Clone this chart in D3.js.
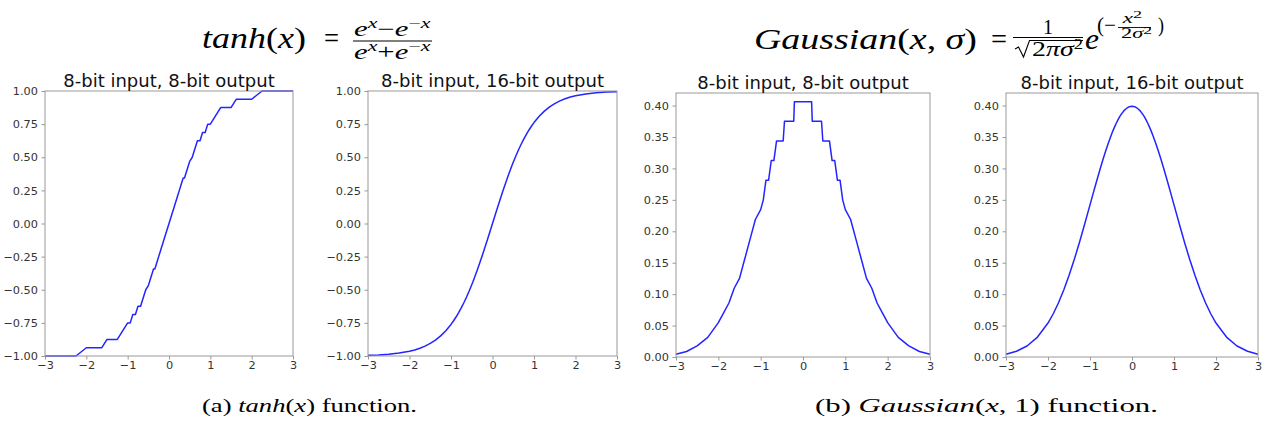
<!DOCTYPE html>
<html>
<head>
<meta charset="utf-8">
<script src="https://cdn.jsdelivr.net/npm/d3@7"></script>
<style>
  html, body { margin: 0; padding: 0; background: #fff; }
  svg { display: block; }
</style>
</head>
<body>
<svg id="fig" width="1266" height="425"></svg>
<script>
// Input samples: the 8-bit representable inputs between -3 and 3
const xValues = [-3, -2.75, -2.5, -2.25, -2, -1.875, -1.75, -1.625, -1.5, -1.375, -1.25, -1.125,
  -1, -0.9375, -0.875, -0.8125, -0.75, -0.6875, -0.625, -0.5625, -0.5, -0.46875, -0.4375, -0.40625,
  -0.375, -0.34375, -0.3125, -0.28125, -0.25, -0.21875, -0.203125, -0.1875, -0.15625, -0.125, -0.0625,
  0,
  0.0625, 0.125, 0.15625, 0.1875, 0.203125, 0.21875, 0.25, 0.28125, 0.3125, 0.34375, 0.375, 0.40625,
  0.4375, 0.46875, 0.5, 0.5625, 0.625, 0.6875, 0.75, 0.8125, 0.875, 0.9375, 1, 1.125, 1.25, 1.375,
  1.5, 1.625, 1.75, 1.875, 2, 2.25, 2.5, 2.75, 3];

// tanh with an 8-bit output
const tanh8bit = [-1, -1, -1, -1, -0.9375, -0.9375, -0.9375, -0.9375, -0.875, -0.875, -0.875, -0.8125,
  -0.75, -0.75, -0.6875, -0.6875, -0.625, -0.625, -0.5625, -0.5, -0.46875, -0.4375, -0.40625, -0.375,
  -0.34375, -0.34375, -0.3125, -0.28125, -0.25, -0.21875, -0.203125, -0.1875, -0.15625, -0.125, -0.0625,
  0,
  0.0625, 0.125, 0.15625, 0.1875, 0.203125, 0.21875, 0.25, 0.28125, 0.3125, 0.34375, 0.34375, 0.375,
  0.40625, 0.4375, 0.46875, 0.5, 0.5625, 0.625, 0.625, 0.6875, 0.6875, 0.75, 0.75, 0.8125, 0.875, 0.875,
  0.875, 0.9375, 0.9375, 0.9375, 0.9375, 1, 1, 1, 1];

// tanh with a 16-bit output
const tanh16bit = [-0.9951, -0.9919, -0.9866, -0.9780, -0.9640, -0.9541, -0.9414, -0.9254, -0.9051,
  -0.8798, -0.8483, -0.8093, -0.7616, -0.7341, -0.7039, -0.6710, -0.6351, -0.5964, -0.5546, -0.5098,
  -0.4621, -0.4372, -0.4116, -0.3853, -0.3584, -0.3308, -0.3027, -0.2741, -0.2449, -0.2153, -0.2004,
  -0.1853, -0.1550, -0.1244, -0.0624,
  0,
  0.0624, 0.1244, 0.1550, 0.1853, 0.2004, 0.2153, 0.2449, 0.2741, 0.3027, 0.3308, 0.3584, 0.3853,
  0.4116, 0.4372, 0.4621, 0.5098, 0.5546, 0.5964, 0.6351, 0.6710, 0.7039, 0.7341, 0.7616, 0.8093,
  0.8483, 0.8798, 0.9051, 0.9254, 0.9414, 0.9541, 0.9640, 0.9780, 0.9866, 0.9919, 0.9951];

// Gaussian(x, 1) with an 8-bit output
const gauss8bit = [0.004395, 0.008789, 0.017578, 0.03125, 0.0546875, 0.0703125, 0.0859375, 0.109375,
  0.125, 0.15625, 0.1875, 0.21875, 0.234375, 0.25, 0.28125, 0.28125, 0.3125, 0.3125, 0.34375, 0.34375,
  0.34375, 0.34375, 0.375, 0.375, 0.375, 0.375, 0.375, 0.375, 0.375, 0.375, 0.40625, 0.40625, 0.40625,
  0.40625, 0.40625,
  0.40625,
  0.40625, 0.40625, 0.40625, 0.40625, 0.40625, 0.375, 0.375, 0.375, 0.375, 0.375, 0.375, 0.375, 0.375,
  0.34375, 0.34375, 0.34375, 0.34375, 0.3125, 0.3125, 0.28125, 0.28125, 0.25, 0.234375, 0.21875, 0.1875,
  0.15625, 0.125, 0.109375, 0.0859375, 0.0703125, 0.0546875, 0.03125, 0.017578, 0.008789, 0.004395];

// Gaussian(x, 1) with a 16-bit output
const gauss16bit = [0.0044, 0.0091, 0.0175, 0.0317, 0.0540, 0.0688, 0.0863, 0.1066, 0.1295, 0.1550,
  0.1826, 0.2119, 0.2420, 0.2571, 0.2721, 0.2868, 0.3011, 0.3150, 0.3282, 0.3406, 0.3521, 0.3574,
  0.3625, 0.3673, 0.3719, 0.3761, 0.3799, 0.3835, 0.3867, 0.3895, 0.3908, 0.3920, 0.3941, 0.3958, 0.3982,
  0.3989,
  0.3982, 0.3958, 0.3941, 0.3920, 0.3908, 0.3895, 0.3867, 0.3835, 0.3799, 0.3761, 0.3719, 0.3673,
  0.3625, 0.3574, 0.3521, 0.3406, 0.3282, 0.3150, 0.3011, 0.2868, 0.2721, 0.2571, 0.2420, 0.2119,
  0.1826, 0.1550, 0.1295, 0.1066, 0.0863, 0.0688, 0.0540, 0.0317, 0.0175, 0.0091, 0.0044];

const xTicks = [-3, -2, -1, 0, 1, 2, 3];
const tanhTicks = [-1, -0.75, -0.5, -0.25, 0, 0.25, 0.5, 0.75, 1];
const gaussTicks = [0, 0.05, 0.1, 0.15, 0.2, 0.25, 0.3, 0.35, 0.4];
const panelTitles = ["8-bit input, 8-bit output", "8-bit input, 16-bit output",
                     "8-bit input, 8-bit output", "8-bit input, 16-bit output"];

const svg = d3.select("#fig");
const SANS = "'DejaVu Sans', sans-serif";
const MATH = "'Liberation Serif', 'DejaVu Serif', serif";
const LINE = "#2424ff";
const SPINE = "#999999";

const panels = [
  { values: tanh8bit,   yDomain: [-1, 1],   yTicks: tanhTicks,  box: { l: 45,   r: 293,  t: 91, b: 356 }, titleY: 87 },
  { values: tanh16bit,  yDomain: [-1, 1],   yTicks: tanhTicks,  box: { l: 368,  r: 617,  t: 91, b: 356 }, titleY: 87 },
  { values: gauss8bit,  yDomain: [0, 0.42], yTicks: gaussTicks, box: { l: 676,  r: 930,  t: 93, b: 357 }, titleY: 89 },
  { values: gauss16bit, yDomain: [0, 0.42], yTicks: gaussTicks, box: { l: 1006, r: 1258, t: 93, b: 357 }, titleY: 89 }
];

panels.forEach((p, i) => {
  const { l, r, t, b } = p.box;
  const x = d3.scaleLinear().domain([-3, 3]).range([l, r]);
  const y = d3.scaleLinear().domain(p.yDomain).range([b, t]);
  const g = svg.append("g");

  // curve
  const line = d3.line().x((d, k) => x(xValues[k])).y(d => y(d));
  g.append("path")
    .datum(p.values)
    .attr("d", line)
    .attr("fill", "none")
    .attr("stroke", LINE)
    .attr("stroke-width", 1.5)
    .attr("stroke-linejoin", "round");

  // frame
  g.append("rect")
    .attr("x", l).attr("y", t)
    .attr("width", r - l).attr("height", b - t)
    .attr("fill", "none").attr("stroke", SPINE).attr("stroke-width", 1);

  // axes
  const ax = g.append("g").attr("transform", `translate(0,${b})`)
    .call(d3.axisBottom(x).tickValues(xTicks).tickFormat(d3.format("d")).tickSize(3.5).tickPadding(1));
  const ay = g.append("g").attr("transform", `translate(${l},0)`)
    .call(d3.axisLeft(y).tickValues(p.yTicks).tickFormat(d3.format(".2f")).tickSize(3.5).tickPadding(3.5));
  [ax, ay].forEach(a => {
    a.select(".domain").remove();
    a.selectAll(".tick line").attr("stroke", SPINE);
    a.selectAll(".tick text").attr("fill", "#333").attr("font-family", SANS).attr("font-size", 11.3);
  });

  // panel title
  g.append("text")
    .attr("x", (l + r) / 2).attr("y", p.titleY)
    .attr("text-anchor", "middle")
    .attr("font-family", SANS).attr("font-size", 18).attr("fill", "#111")
    .text(panelTitles[i]);
});

// ---- math typesetting helpers ----
function runs(parent, y, list, size) {
  const t = parent.append("text").attr("y", y)
    .attr("font-family", MATH).attr("font-size", size).attr("fill", "#000");
  list.forEach(rn => {
    t.append("tspan")
      .attr("y", y + (rn.dy || 0))
      .attr("font-size", rn.size || size)
      .attr("font-style", rn.it ? "italic" : "normal")
      .text(rn.t);
  });
  return t;
}
function fitX(sel, x0, x1) {
  const bb = sel.node().getBBox();
  const s = (x1 - x0) / bb.width;
  sel.attr("transform", `translate(${x0 - bb.x * s},0) scale(${s},1)`);
  return sel;
}
function rule(parent, x0, x1, yy, w) {
  parent.append("line").attr("x1", x0).attr("x2", x1).attr("y1", yy).attr("y2", yy)
    .attr("stroke", "#000").attr("stroke-width", w || 1.2);
}

// tanh(x) = (e^x - e^-x) / (e^x + e^-x)
const f1 = svg.append("g");
fitX(runs(f1, 48, [{ t: "tanh", it: 1 }, { t: "(" }, { t: "x", it: 1 }, { t: ")" }], 30), 202, 306);
fitX(runs(f1, 48, [{ t: "=" }], 30), 324, 339);
fitX(runs(f1, 36, [
  { t: "e", it: 1 }, { t: "x", it: 1, size: 15, dy: -8 }, { t: "\u2212" },
  { t: "e", it: 1 }, { t: "\u2212", size: 15, dy: -8 }, { t: "x", it: 1, size: 15, dy: -8 }], 21), 354, 431);
rule(f1, 353, 432, 41);
fitX(runs(f1, 59, [
  { t: "e", it: 1 }, { t: "x", it: 1, size: 15, dy: -8 }, { t: "+" },
  { t: "e", it: 1 }, { t: "\u2212", size: 15, dy: -8 }, { t: "x", it: 1, size: 15, dy: -8 }], 21), 354, 431);

// Gaussian(x, sigma) = 1 / sqrt(2 pi sigma^2) * e^(-x^2 / (2 sigma^2))
const f2 = svg.append("g");
fitX(runs(f2, 49, [{ t: "Gaussian", it: 1 }, { t: "(" }, { t: "x", it: 1 }, { t: ", " },
  { t: "\u03C3", it: 1 }, { t: ")" }], 30), 754, 977);
fitX(runs(f2, 49, [{ t: "=" }], 30), 991, 1007);
runs(f2, 34, [{ t: "1" }], 20).attr("text-anchor", "middle").attr("x", 1048);
rule(f2, 1013, 1083, 37.5);
f2.append("path")
  .attr("d", "M1015,49 L1018.5,47 L1023.5,57 L1029.5,40.5 L1083,40.5")
  .attr("fill", "none").attr("stroke", "#000").attr("stroke-width", 1.1).attr("stroke-linejoin", "miter");
fitX(runs(f2, 56, [{ t: "2" }, { t: "\u03C0\u03C3", it: 1 }, { t: "2", size: 14, dy: -7 }], 21), 1032, 1083);
fitX(runs(f2, 49, [{ t: "e", it: 1 }], 30), 1085, 1099);
fitX(runs(f2, 32, [{ t: "(\u2212" }], 21), 1097, 1116);
fitX(runs(f2, 23, [{ t: "x", it: 1 }, { t: "2", size: 11, dy: -5 }], 14), 1121, 1142);
rule(f2, 1118, 1151, 27.5, 0.9);
fitX(runs(f2, 38, [{ t: "2" }, { t: "\u03C3", it: 1 }, { t: "2", size: 11, dy: -4 }], 14), 1121, 1152);
fitX(runs(f2, 32, [{ t: ")" }], 21), 1158, 1164);

// captions
const cap = svg.append("g");
fitX(runs(cap, 412, [{ t: "(a) " }, { t: "tanh", it: 1 }, { t: "(" }, { t: "x", it: 1 }, { t: ")" },
  { t: " function." }], 18.5), 202, 417);
fitX(runs(cap, 412, [{ t: "(b) " }, { t: "Gaussian", it: 1 }, { t: "(" }, { t: "x", it: 1 }, { t: ", 1)" },
  { t: " function." }], 18.5), 815, 1158);
</script>
</body>
</html>
